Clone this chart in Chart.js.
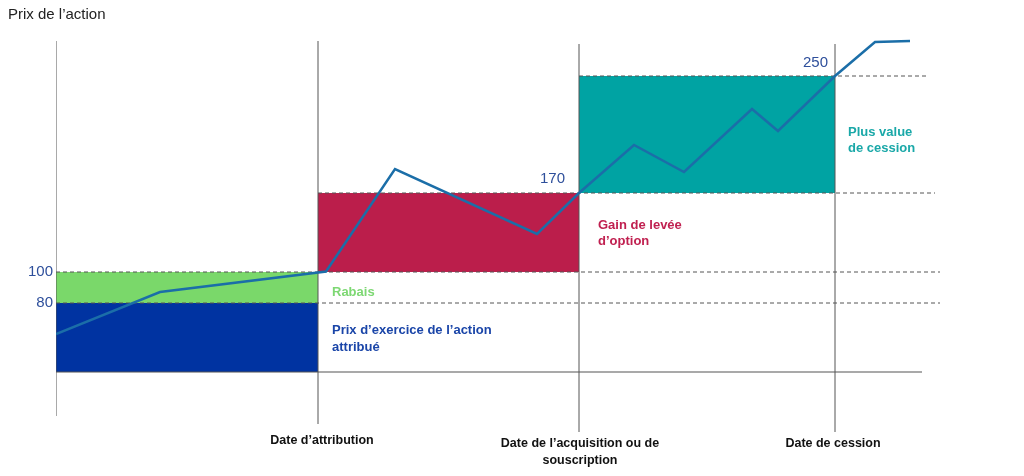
<!DOCTYPE html>
<html>
<head>
<meta charset="utf-8">
<script src="https://cdn.jsdelivr.net/npm/chart.js@4.4.1/dist/chart.umd.min.js"></script>
<style>
  html, body { margin: 0; padding: 0; background: #fff; }
  #wrap { width: 1024px; height: 476px; }
</style>
</head>
<body>
<div id="wrap"><canvas id="chart" width="1024" height="476"></canvas></div>
<script>
// schematic units: x = time, y = share price (drawing units, not to scale)
const dateX = [262, 523, 779];
const dateLabels = [["Date d’attribution"], ["Date de l’acquisition ou de", "souscription"], ["Date de cession"]];

const levelValues = [129, 160, 239, 356];   // 80, 100, 170, 250
const levelLabels = ["80", "100", "170", "250"];
const baseY = 60;

const priceX = [0, 104, 270, 339, 481, 523, 578, 628, 696, 722, 779, 819, 854];
const priceY = [98, 140, 160.5, 263, 198, 239, 287, 260, 323, 301, 356, 390, 391];

const zoneNames = ["Prix d’exercice", "Rabais", "Gain de levée d’option", "Plus value de cession"];
const zoneFrom = [0, 0, 262, 523];
const zoneTo = [262, 262, 523, 779];
const zoneLow = [60, 129, 160, 239];
const zoneHigh = [129, 160, 239, 356];
const zoneColors = ['#0033a1', '#7ad86a', '#bb1e4b', '#00a3a3'];

const pts = (xs, ys) => xs.map((x, i) => ({ x: x, y: ys[i] }));

const datasets = [];

// coloured zones (drawn first)
zoneNames.forEach((name, i) => {
    datasets.push({
        label: name,
        order: 3,
        data: [{ x: zoneFrom[i], y: zoneHigh[i] }, { x: zoneTo[i], y: zoneHigh[i] }],
        borderWidth: 0, pointRadius: 0,
        backgroundColor: zoneColors[i],
        fill: { value: zoneLow[i] }
    });
});

// dashed level lines
const dashFrom = [0, 0, 262, 523];
const dashTo = [884, 884, 879, 872];
levelValues.forEach((v, i) => {
    datasets.push({
        order: 2,
        data: [{ x: dashFrom[i], y: v }, { x: dashTo[i], y: v }],
        borderColor: '#555', borderWidth: 1, borderDash: [4, 3], pointRadius: 0, fill: false
    });
});

// base line
datasets.push({
    order: 2,
    data: [{ x: 0, y: baseY }, { x: 866, y: baseY }],
    borderColor: '#555', borderWidth: 1.2, pointRadius: 0, fill: false
});

// vertical lines (price axis + dates)
const vertX = [0].concat(dateX);
const vertTop = [391, 391, 388, 388];
const vertBottom = [16, 8, 0, 0];
vertX.forEach((x, i) => {
    datasets.push({
        order: 2,
        data: [{ x: x, y: vertBottom[i] }, { x: x, y: vertTop[i] }],
        borderColor: '#555', borderWidth: 1, pointRadius: 0, fill: false
    });
});

// share price (on top)
datasets.push({
    label: 'Prix de l’action',
    order: 1,
    data: pts(priceX, priceY),
    borderColor: '#1b6ea8', borderWidth: 2.5, pointRadius: 0, fill: false, tension: 0
});

const textPlugin = {
    id: 'texts',
    afterDatasetsDraw(chart) {
        const ctx = chart.ctx, xs = chart.scales.x, ys = chart.scales.y;
        const X = v => xs.getPixelForValue(v), Y = v => ys.getPixelForValue(v);
        ctx.save();
        ctx.textBaseline = 'middle';

        ctx.font = '15px "Liberation Sans", Arial, sans-serif';
        ctx.fillStyle = '#222';
        ctx.textAlign = 'left';
        ctx.fillText('Prix de l’action', 8, 15);

        // level numbers
        ctx.fillStyle = '#2e4f9b';
        ctx.textAlign = 'right';
        ctx.fillText(levelLabels[0], X(0) - 3, Y(levelValues[0]));
        ctx.fillText(levelLabels[1], X(0) - 3, Y(levelValues[1]));
        ctx.fillText(levelLabels[2], X(dateX[1]) - 14, Y(levelValues[2]) - 14);
        ctx.fillText(levelLabels[3], X(dateX[2]) - 7, Y(levelValues[3]) - 13);

        // zone labels
        ctx.textAlign = 'left';
        ctx.font = 'bold 13px "Liberation Sans", Arial, sans-serif';
        ctx.fillStyle = '#7dd873';
        ctx.fillText('Rabais', X(dateX[0]) + 14, 292);
        ctx.fillStyle = '#1a45a8';
        ctx.fillText('Prix d’exercice de l’action', X(dateX[0]) + 14, 330);
        ctx.fillText('attribué', X(dateX[0]) + 14, 347);
        ctx.fillStyle = '#c02050';
        ctx.fillText('Gain de levée', X(dateX[1]) + 19, 225);
        ctx.fillText('d’option', X(dateX[1]) + 19, 241);
        ctx.fillStyle = '#1aa8a8';
        ctx.fillText('Plus value', X(dateX[2]) + 13, 132);
        ctx.fillText('de cession', X(dateX[2]) + 13, 148);

        // date labels
        ctx.font = 'bold 12.5px "Liberation Sans", Arial, sans-serif';
        ctx.fillStyle = '#111';
        ctx.textAlign = 'center';
        const dateOffsets = [4, 1, -2];
        dateLabels.forEach((lines, i) => {
            const top = i === 0 ? 441 : 444;
            lines.forEach((t, j) => ctx.fillText(t, X(dateX[i]) + dateOffsets[i], top + j * 17));
        });
        ctx.restore();
    }
};

new Chart(document.getElementById('chart'), {
    type: 'line',
    data: { datasets: datasets },
    options: {
        responsive: false,
        animation: false,
        layout: { padding: { left: 56, right: 82, top: 32, bottom: 44 } },
        scales: {
            x: { type: 'linear', min: 0, max: 886, display: false },
            y: { type: 'linear', min: 0, max: 400, display: false }
        },
        plugins: { legend: { display: false }, tooltip: { enabled: false } },
        elements: { line: { capBezierPoints: false } }
    },
    plugins: [textPlugin]
});
</script>
</body>
</html>
